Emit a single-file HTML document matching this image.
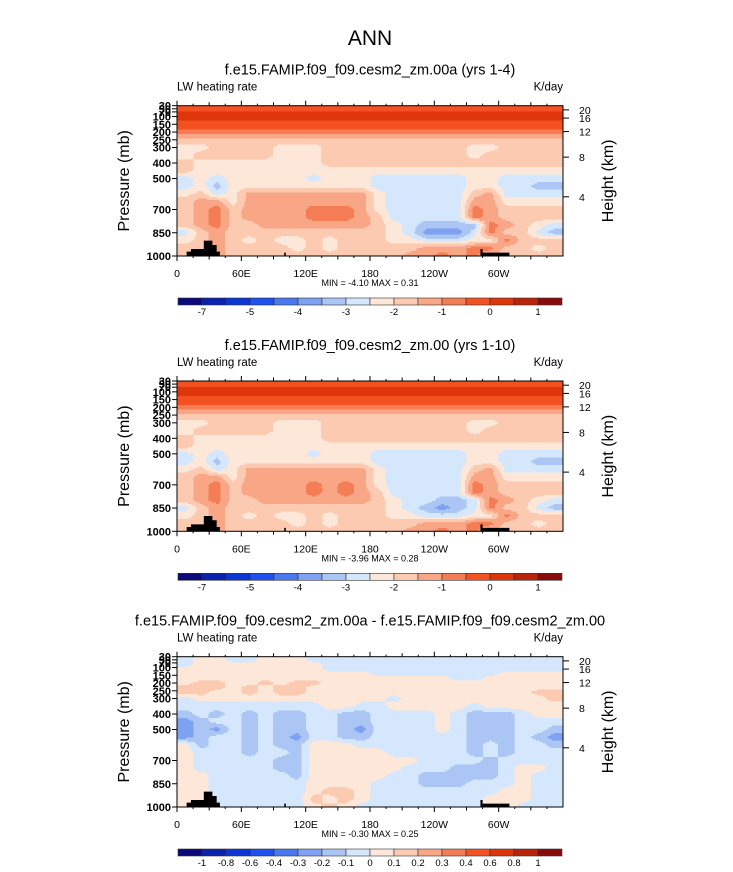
<!DOCTYPE html>
<html><head><meta charset="utf-8"><style>
html,body{margin:0;padding:0;background:#fff;}
svg{display:block;font-family:"Liberation Sans",Arial,sans-serif;}
</style></head><body>
<svg id="fig" width="733" height="872" viewBox="0 0 733 872">
<text x="370" y="45" font-size="21" text-anchor="middle">ANN</text>
</svg>
<script>
// ---- data ----
const pressureLevels = [30,50,80,110,140,170,200,230,260,300,350,400,450,500,550,600,650,700,750,800,850,900,950,1000];
const lonLabels = ["0","60E","120E","180","120W","60W"];
const pLabels = [30,50,70,100,150,200,250,300,400,500,700,850,1000];
const heightLabels = ["20","16","12","8","4"];
const heightPressures = [57,110,197,362,618];
const bar1Labels = ["-7","-5","-4","-3","-2","-1","0","1"];
const bar1Index = [1,3,5,7,9,11,13,15];
const bar3Labels = ["-1","-0.8","-0.6","-0.4","-0.3","-0.2","-0.1","0","0.1","0.2","0.3","0.4","0.6","0.8","1"];
const palette = ["#0a0a7d","#0a22ad","#0d36d6","#1f50f0","#4a78ee","#7fa1f1","#abc5f5","#d5e7fc","#fde7d8","#fcc9b1","#f9a687","#f57d56","#f35122","#de360a","#b82309","#8a0b0b"];
// field codes: hex digit k maps to palette[k-1]
const panel1Rows = [
"dddddddddddddddddddddddd","dddddddddddddddddddddddd","eeeeeeeeeeeeeeeeeeeeeeee","eeeeeeeeeeeeeeeeeeeeeeee",
"dddddddddddddddddddddddd","dddddddddddddddddddddddd","cccccccccccccccccccccccc","bbbbbbbbbbbbbbbbbbbbbbbb",
"aaaaaaaaaaaaaaaaaaaaaaaa","99aaaa999aaaaaaaaa99aaaa","9aaaaa999aaaaaaaaa9aaaaa","a99999999aaaaaaaaaaaaaaa",
"a99999999999999999999999","898999998999888888998888","897999999999888888998877","9a89bbbbbbbb988888ab8888",
"abb9bbbbbbbb988888bb9999","abcabbbbcccb988888cbaaaa","abcabbbbcccba88888cbaaaa","abcaabbbbbbba987777cba98",
"8abaaaaaaaaaa986668caa87","9aba9a99a9aaa9988899caaa","aabaaaa9a9aaaaabbbccaa9a","aabaaaaaaaaaaabbcbcaaaaa"];
const panel2Rows = [
"dddddddddddddddddddddddd","dddddddddddddddddddddddd","eeeeeeeeeeeeeeeeeeeeeeee","eeeeeeeeeeeeeeeeeeeeeeee",
"dddddddddddddddddddddddd","dddddddddddddddddddddddd","cccccccccccccccccccccccc","bbbbbbbbbbbbbbbbbbbbbbbb",
"aaaaaaaaaaaaaaaaaaaaaaaa","99aaaa999aaaaaaaaa99aaaa","9aaaaa999aaaaaaaaa9aaaaa","a99999999aaaaaaaaaaaaaaa",
"a99999999999999999999999","898999998999888888998888","897999999999888888998877","9a89bbbbbbbb988888ab8888",
"abb9bbbbbbbb988888bb9999","abcabbbbcbcb988888cbaaaa","abcabbbbcbcba88888cbaaaa","abcaabbbbbbba988778cba98",
"8abaaaaaaaaaa987678caa87","9aba9a99a9aaa9988899caaa","aabaaaa9a9aaaaabbbccaa9a","aabaaaaaaaaaaabbcbcaaaaa"];
const panel3Rows = [
"899889998888888888888888","899889998888888888888888","899999999888888888888888","999999999888888888888888",
"999999999999888888889999","999999999999999998899999","9aa99a9aa999999999999999","aaa9a9aa9999999999999999",
"aa99a9aa99999999999999aa","89999999999998999999999a","888888888998899999899999","787878778877888898777899",
"678878778877888898777888","676878778876888898777887","678878768877888888777876","978878779998888888787887",
"988878879999988888787888","988888779999999888878888","988888779999998887778998","998888879999988777778988",
"998888889999888777888988","998888889aa9888888889988","99888888a9a9888888899988","998888889a98888888899888"];
const terrainLon = [9,9,13,13,25,25,33,33,37,37,40,40,100,100,101.5,101.5,283,283,285,285,310,310];
const terrainP   = [1000,972,972,955,955,901,901,929,929,972,972,1000,1000,978,978,1000,1000,955,955,978,978,1000];
const panelTitles = ["f.e15.FAMIP.f09_f09.cesm2_zm.00a (yrs 1-4)","f.e15.FAMIP.f09_f09.cesm2_zm.00 (yrs 1-10)","f.e15.FAMIP.f09_f09.cesm2_zm.00a - f.e15.FAMIP.f09_f09.cesm2_zm.00"];
const minMax = ["MIN =  -4.10  MAX =   0.31","MIN =  -3.96  MAX =   0.28","MIN =  -0.30  MAX =   0.25"];

// ---- drawing ----
const NS="http://www.w3.org/2000/svg";
const svg=document.getElementById('fig');
const L=177,R=563,W=R-L,H=150.3;
function mk(tag,attrs,parent){const e=document.createElementNS(NS,tag);for(const k in attrs)e.setAttribute(k,attrs[k]);(parent||svg).appendChild(e);return e;}
function xScale(lon){return L+lon/360*W;}
function yScale(p,top){return top+(p-30)/970*H;}

function sampleField(rows,lon,p){
  let c=lon/15-0.5; c=Math.max(0,Math.min(23,c));
  let r=0; while(r<pressureLevels.length-2 && p>pressureLevels[r+1]) r++;
  let t=(p-pressureLevels[r])/(pressureLevels[r+1]-pressureLevels[r]); t=Math.max(0,Math.min(1,t));
  const c0=Math.floor(c),c1=Math.min(23,c0+1),u=c-c0;
  const v=(rr,cc)=>parseInt(rows[rr][cc],16);
  const a=v(r,c0)*(1-u)+v(r,c1)*u, b=v(r+1,c0)*(1-u)+v(r+1,c1)*u;
  return Math.max(0,Math.min(15,Math.round(a*(1-t)+b*t)-1));
}

function drawPanel(idx,top,rows,barLabels,barIdx){
  const g=mk('g',{});
  
  
  const t=mk('text',{x:370,y:top-31,'font-size':14.5,'text-anchor':'middle'},g); t.textContent=panelTitles[idx];
   
  const lt=mk('text',{x:L,y:top-15,'font-size':11.5},g); lt.textContent="LW heating rate";
   
  const ut=mk('text',{x:R,y:top-15,'font-size':11.5,'text-anchor':'end'},g); ut.textContent="K/day";
   
  // contour field
  const f=mk('g',{'shape-rendering':'crispEdges'},g);
   
  const step=1.5;
  const nx=Math.ceil(W/step), ny=Math.ceil(H/step);
  function emit(x0,x1,y,lev){
    const rc=mk('rect',{x:L+x0,y:top+y,width:Math.min(x1,W)-x0,height:Math.min(step+0.3,H-y),fill:palette[lev]},f);
     
  }
  for(let j=0;j<ny;j++){
    const py=j*step;
    const p=30+(py+step/2)/H*970;
    let runStart=0,runLev=null;
    for(let i=0;i<nx;i++){
      const px=i*step;
      const lev=sampleField(rows,Math.min(359.9,(px+step/2)/W*360),p);
      if(lev!==runLev){
        if(runLev!==null) emit(runStart,px,py,runLev);
        runStart=px; runLev=lev;
      }
    }
    emit(runStart,W,py,runLev);
  }
  // terrain
  const pts=terrainLon.map((lo,i)=>xScale(lo)+','+yScale(terrainP[i],top)).join(' ');
  const tp=mk('polygon',{points:pts,fill:'#000'},g);
   
  // frame
  const fr=mk('rect',{x:L,y:top,width:W,height:H,fill:'none',stroke:'#000','stroke-width':1},g);
   
  // x ticks
  for(let lon=0;lon<360;lon+=15){
    const major=lon%60===0, mid=lon%30===0;
    const len=major?5:(mid?3.5:2);
    const x=xScale(lon);
    mk('line',{x1:x,x2:x,y1:top+H,y2:top+H+len,stroke:'#000'},g);
    mk('line',{x1:x,x2:x,y1:top,y2:top-len,stroke:'#000'},g);
  }
  lonLabels.forEach((s,i)=>{const tx=mk('text',{x:xScale(i*60),y:top+H+21,'font-size':10.5,'text-anchor':'middle'},g);tx.textContent=s;
     });
  // y ticks
  pLabels.forEach(p=>{const y=yScale(p,top);mk('line',{x1:L,x2:L-5,y1:y,y2:y,stroke:'#000'},g);
    const tx=mk('text',{x:L-6,y:y+4,'font-size':11,'font-weight':'bold','text-anchor':'end'},g);tx.textContent=p;
     });
  heightLabels.forEach((h,i)=>{const y=yScale(heightPressures[i],top);mk('line',{x1:R,x2:R+6,y1:y,y2:y,stroke:'#000'},g);
    const tx=mk('text',{x:R+16,y:y+4,'font-size':10.5},g);tx.textContent=h;
     });
  const yt=mk('text',{x:0,y:0,'font-size':16,'text-anchor':'middle',transform:`translate(129,${top+H/2}) rotate(-90)`},g);yt.textContent="Pressure (mb)";
   
  const ht=mk('text',{x:0,y:0,'font-size':16,'text-anchor':'middle',transform:`translate(613,${top+H/2}) rotate(-90)`},g);ht.textContent="Height (km)";
   
  const mm=mk('text',{x:370,y:top+H+30,'font-size':9,'text-anchor':'middle'},g);mm.textContent=minMax[idx];
   
  // colorbar
  const cb=mk('g',{},g);
   
  const by=top+H+42, bw=(562-178)/16;
  palette.forEach((c,i)=>{const r=mk('rect',{x:178+i*bw,y:by,width:bw,height:7,fill:c,stroke:'#333','stroke-width':0.6},cb);
     });
  barLabels.forEach((s,i)=>{const tx=mk('text',{x:178+barIdx[i]*bw,y:by+17,'font-size':9.5,'text-anchor':'middle'},cb);tx.textContent=s;
     });
}
drawPanel(0,105.7,panel1Rows,bar1Labels,bar1Index);
drawPanel(1,381,panel2Rows,bar1Labels,bar1Index);
drawPanel(2,656.7,panel3Rows,bar3Labels,bar3Labels.map((_,i)=>i+1));
</script>
</body></html>
